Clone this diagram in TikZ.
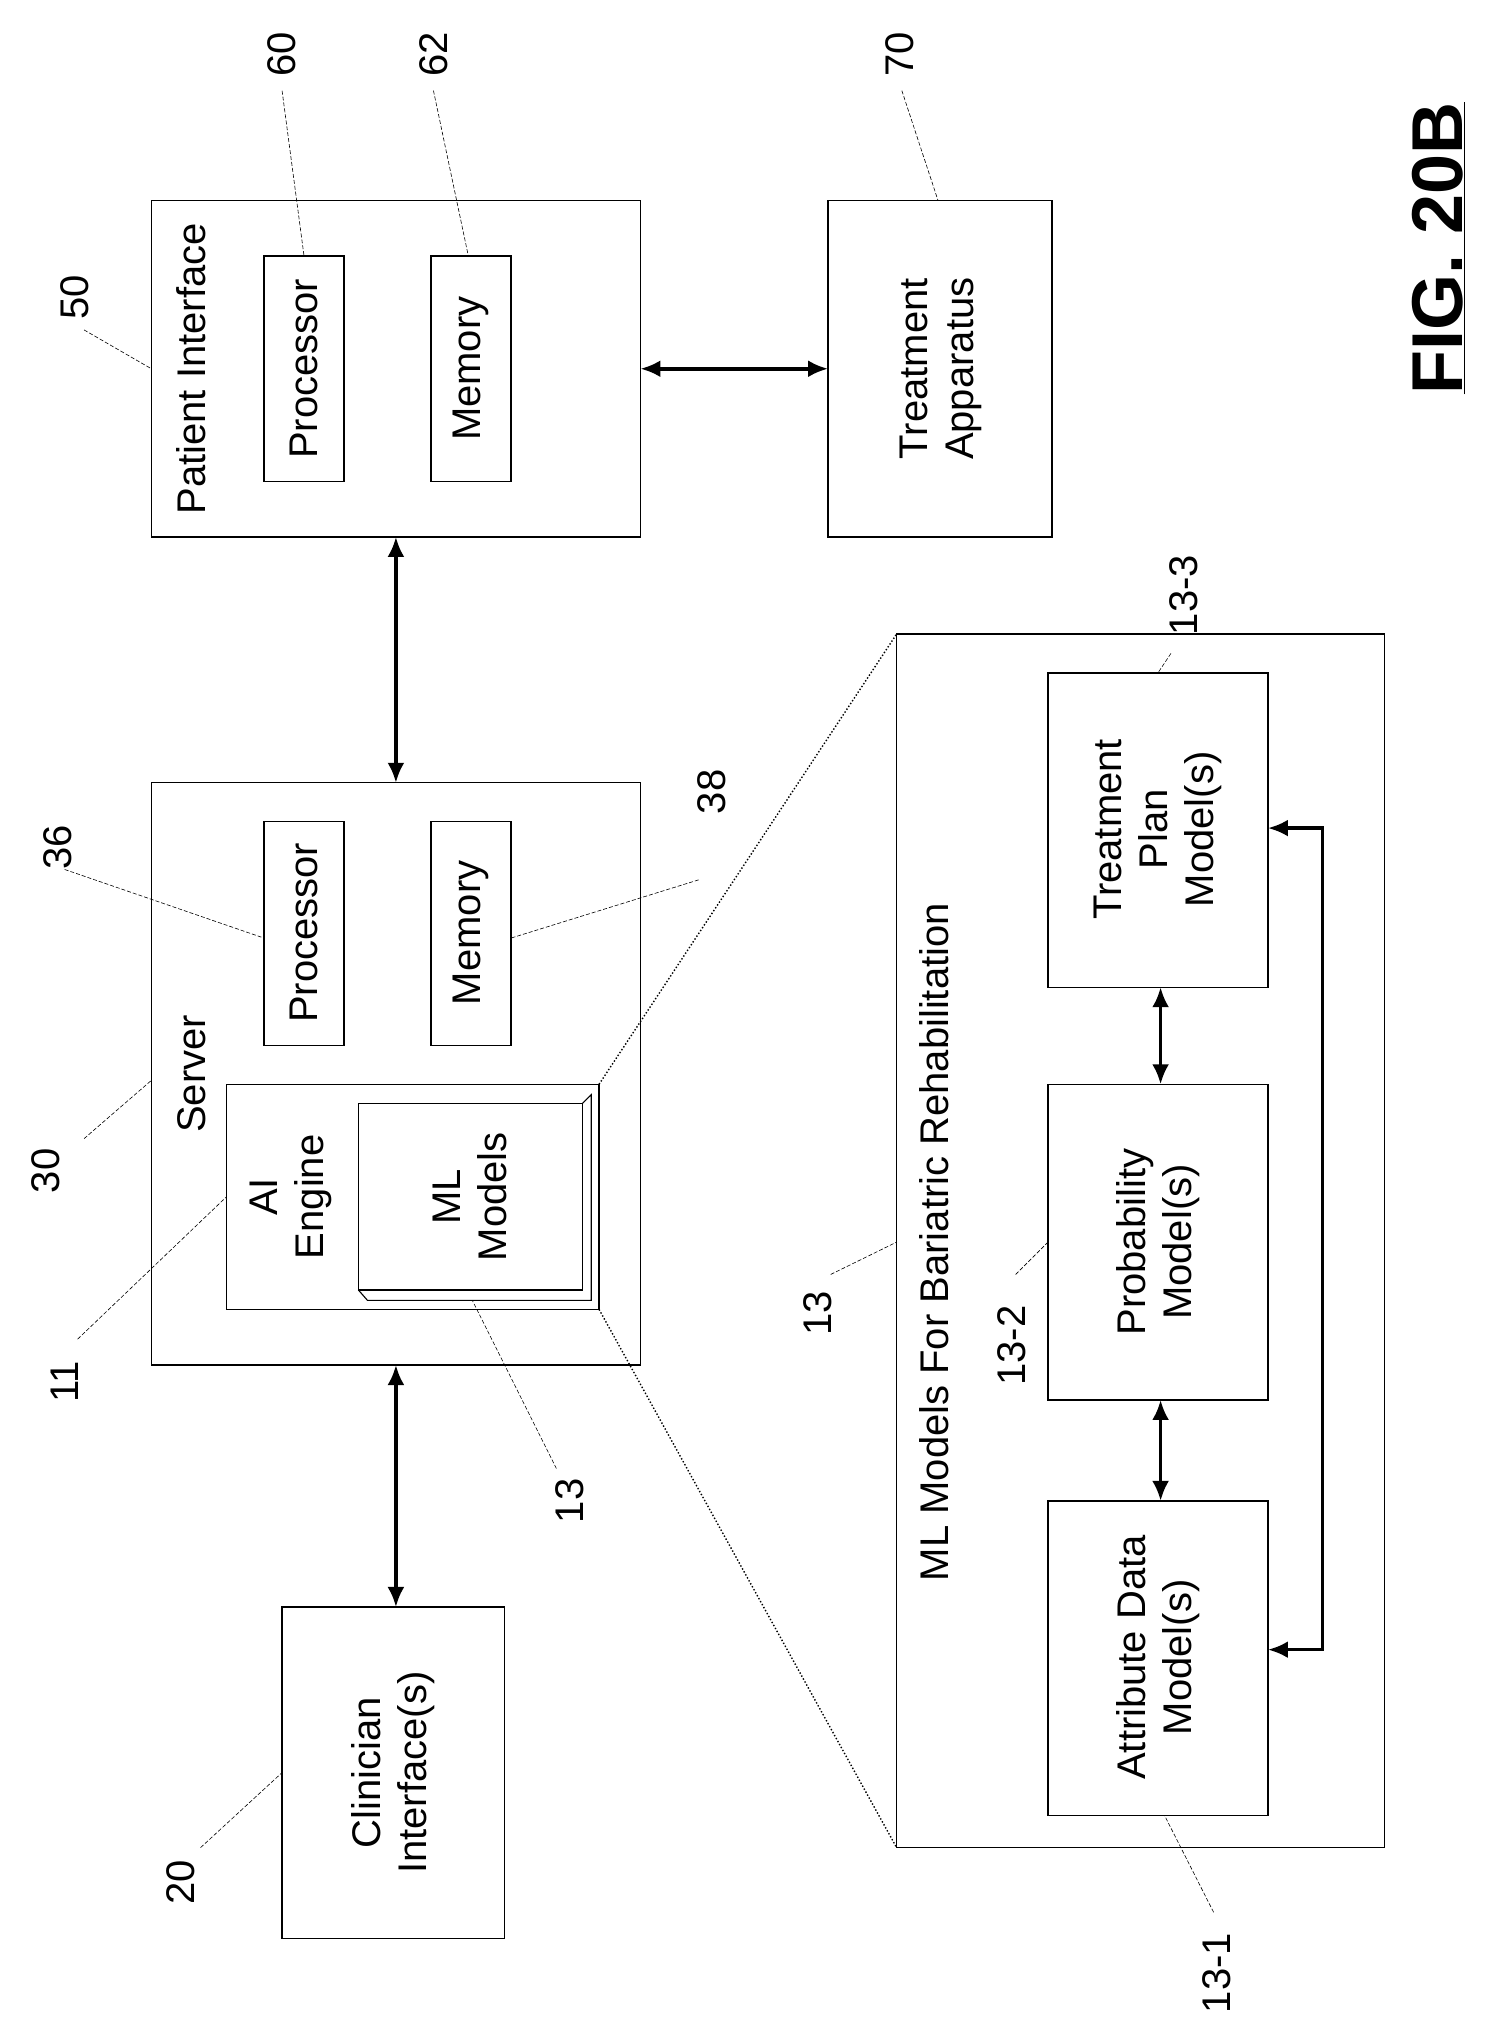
\documentclass[tikz,border=0pt]{standalone}
\usepackage{fontspec}
\setmainfont{Liberation Sans}
\usetikzlibrary{arrows.meta}
\begin{document}
\begin{tikzpicture}[x=1.2936pt,y=1.2936pt,
 box/.style={draw,line width=1.4pt},
 t/.style={rotate=90,font=\fontsize{40}{46}\selectfont,align=center,inner sep=0},
 lead/.style={draw,dashed,line width=0.6pt,dash pattern=on 4pt off 2pt},
 arr/.style={line width=3.6pt,{Latex[length=20pt,width=17pt]}-{Latex[length=20pt,width=17pt]}}]
\useasboundingbox (0,0) rectangle (1158,-1562);
% Patient interface
\draw[box] (117,-155) rectangle (495,-415);
\node[t] (pil) at (148,-285) {Patient Interface};
\draw[box] (204,-198) rectangle (266,-372); \node[t] (pp) at (235,-285) {Processor};
\draw[box] (333,-198) rectangle (395,-372); \node[t] (pm) at (364,-285) {Memory};
% Treatment apparatus
\draw[box] (640,-155) rectangle (813,-415);
\node[t] (ta) at (727,-285) {Treatment\\Apparatus};
% Server
\draw[box] (117,-605) rectangle (495,-1055);
\node[t] (sv) at (148,-830) {Server};
\draw[box] (204,-635) rectangle (266,-808); \node[t] (sp) at (235,-721) {Processor};
\draw[box] (333,-635) rectangle (395,-808); \node[t] (sm) at (364,-721) {Memory};
\draw[box] (175,-838) rectangle (463,-1012);
\node[t] (ai) at (225,-925) {AI\\Engine};
\draw[box] (277,-853) rectangle (450,-997);
\draw[line width=1.1pt] (450,-853) -- (457,-846) -- (457,-1005) -- (284,-1005) -- (277,-997);
\node[t] (ml) at (363,-925) {ML\\Models};
% Clinician
\draw[box] (218,-1242) rectangle (390,-1498);
\node[t] (cl) at (304,-1370) {Clinician\\Interface(s)};
% ML models bariatric
\draw[box] (693,-490) rectangle (1070,-1428);
\node[t] (mlb) at (722,-960) {ML Models For Bariatric Rehabilitation};
\draw[box] (810,-1160) rectangle (980,-1403); \node[t] (ad) at (895,-1281) {Attribute Data\\Model(s)};
\draw[box] (810,-838) rectangle (980,-1082); \node[t] (pr) at (895,-960) {Probability\\Model(s)};
\draw[box] (810,-520) rectangle (980,-763); \node[t] (tp) at (895,-641) {Treatment\\Plan\\Model(s)};
% arrows
\draw[arr] (495,-285) -- (640,-285);
\draw[arr] (306,-415) -- (306,-605);
\draw[arr] (306,-1055) -- (306,-1242);
\draw[arr] (897,-763) -- (897,-838);
\draw[arr] (897,-1082) -- (897,-1160);
\draw[arr] (980,-640) -- (1022,-640) -- (1022,-1275) -- (980,-1275);
% dotted
\draw[dotted,line width=1.4pt] (463,-838) -- (693,-490);
\draw[dotted,line width=1.4pt] (463,-1012) -- (693,-1428);
% labels
\node[t] (n60) at (218,-42) {60}; \draw[lead] (218,-70) -- (235,-198);
\node[t] (n62) at (335,-42) {62}; \draw[lead] (335,-70) -- (362,-198);
\node[t] (n70) at (695,-42) {70}; \draw[lead] (697,-70) -- (725,-155);
\node[t] (n50) at (58,-230) {50}; \draw[lead] (65,-255) -- (117,-285);
\node[t] (n30) at (35,-905) {30}; \draw[lead] (65,-880) -- (117,-835);
\node[t] (n11) at (50,-1068) {11}; \draw[lead] (60,-1035) -- (175,-925);
\node[t] (n36) at (45,-655) {36}; \draw[lead] (50,-672) -- (204,-725);
\node[t] (n38) at (550,-612) {38}; \draw[lead] (540,-680) -- (395,-725);
\node[t] (n13a) at (440,-1160) {13}; \draw[lead] (430,-1135) -- (365,-1005);
\node[t] (n13b) at (632,-1015) {13}; \draw[lead] (642,-985) -- (693,-960);
\node[t] (n132) at (782,-1040) {13-2}; \draw[lead] (785,-985) -- (810,-960);
\node[t] (n133) at (915,-460) {13-3}; \draw[lead] (905,-505) -- (895,-520);
\node[t] (n131) at (940,-1525) {13-1}; \draw[lead] (938,-1478) -- (900,-1403);
\node[t] (n20) at (140,-1455) {20}; \draw[lead] (155,-1428) -- (218,-1370);
\node[rotate=90,font=\fontsize{72}{80}\selectfont\bfseries,inner sep=0] (fig) at (1112,-192) {\underline{FIG. 20B}};
\end{tikzpicture}
\end{document}
